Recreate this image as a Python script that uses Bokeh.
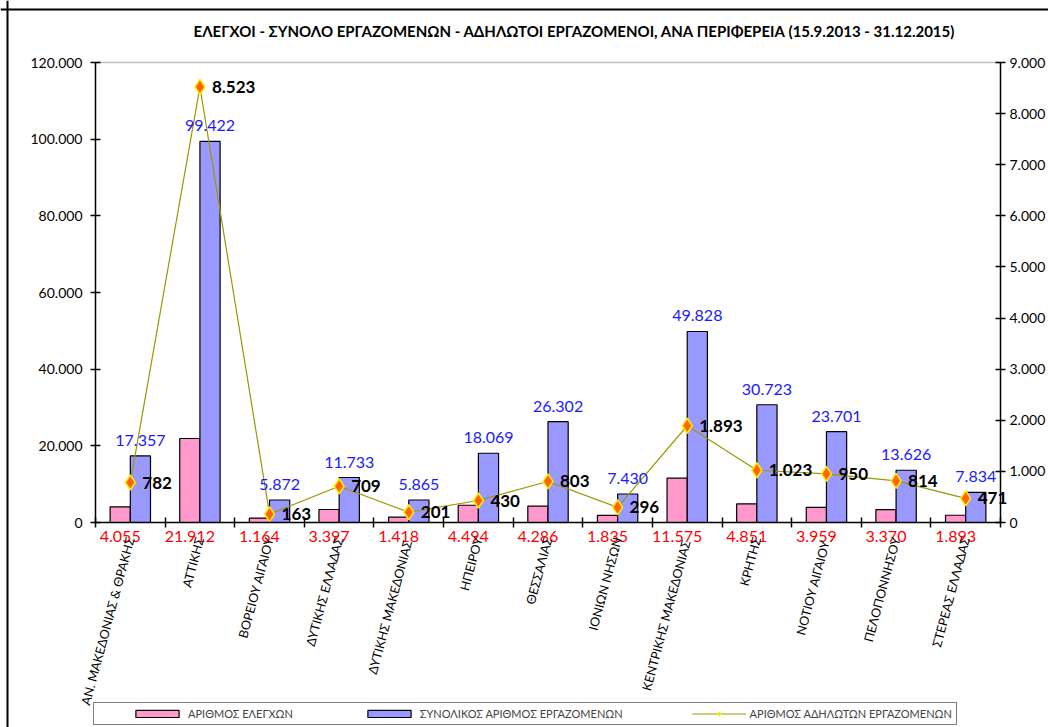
import math
from bokeh.plotting import figure
from bokeh.models import (Range1d, LinearAxis, FixedTicker, CustomJSTickFormatter,
                          ColumnDataSource, LabelSet, Label, Legend, LegendItem, Span)
from bokeh.core.properties import value
from bokeh.embed import file_html
from bokeh.resources import INLINE

FONT = "Lato"

regions = ["ΑΝ. ΜΑΚΕΔΟΝΙΑΣ & ΘΡΑΚΗΣ", "ΑΤΤΙΚΗΣ", "ΒΟΡΕΙΟΥ ΑΙΓΑΙΟΥ", "ΔΥΤΙΚΗΣ ΕΛΛΑΔΑΣ",
           "ΔΥΤΙΚΗΣ  ΜΑΚΕΔΟΝΙΑΣ", "ΗΠΕΙΡΟΥ", "ΘΕΣΣΑΛΙΑΣ", "ΙΟΝΙΩΝ ΝΗΣΩΝ",
           "ΚΕΝΤΡΙΚΗΣ  ΜΑΚΕΔΟΝΙΑΣ", "ΚΡΗΤΗΣ", "ΝΟΤΙΟΥ  ΑΙΓΑΙΟΥ", "ΠΕΛΟΠΟΝΝΗΣΟΥ",
           "ΣΤΕΡΕΑΣ ΕΛΛΑΔΑΣ"]
elegxoi = [4055, 21912, 1164, 3397, 1418, 4494, 4286, 1835, 11575, 4851, 3959, 3370, 1893]
synolikoi = [17357, 99422, 5872, 11733, 5865, 18069, 26302, 7430, 49828, 30723, 23701, 13626, 7834]
adilotoi = [782, 8523, 163, 709, 201, 430, 803, 296, 1893, 1023, 950, 814, 471]
left_ticks = [0, 20000, 40000, 60000, 80000, 100000, 120000]
right_ticks = [0, 1000, 2000, 3000, 4000, 5000, 6000, 7000, 8000, 9000]

series_names = ["ΑΡΙΘΜΟΣ ΕΛΕΓΧΩΝ", "ΣΥΝΟΛΙΚΟΣ ΑΡΙΘΜΟΣ ΕΡΓΑΖΟΜΕΝΩΝ", "ΑΡΙΘΜΟΣ ΑΔΗΛΩΤΩΝ ΕΡΓΑΖΟΜΕΝΩΝ"]
title_text = "ΕΛΕΓΧΟΙ - ΣΥΝΟΛΟ ΕΡΓΑΖΟΜΕΝΩΝ - ΑΔΗΛΩΤΟΙ ΕΡΓΑΖΟΜΕΝΟΙ, ΑΝΑ ΠΕΡΙΦΕΡΕΙΑ (15.9.2013 - 31.12.2015)"


def fmt(v):
    return f"{v:,}".replace(",", ".")


n = len(regions)
L_MAX, R_MAX = left_ticks[-1], right_ticks[-1]

# page layout in pixels (the frame fills the whole canvas)
W, H = 1048, 727
X0_PX, XN_PX = 95, 1000      # left and right value axes
Y0_PX, YT_PX = 522, 62       # zero line and top of plot area
ppx = (XN_PX - X0_PX) / n
ppy = (Y0_PX - YT_PX) / L_MAX


def xd(px):
    return (px - X0_PX) / ppx


def yd(px):
    return (Y0_PX - px) / ppy


BW = 0.29
centers = [i + 0.5 for i in range(n)]
pink_x = [c - BW / 2 for c in centers]
blue_x = [c + BW / 2 for c in centers]
src = ColumnDataSource(dict(
    x=centers, pink_x=pink_x, blue_x=blue_x,
    elegxoi=elegxoi, synolikoi=synolikoi, adilotoi=adilotoi,
    syn_lbl=[fmt(v) for v in synolikoi],
    ad_lbl=[fmt(v) for v in adilotoi],
))

p = figure(width=W, height=H, x_range=Range1d(xd(0), xd(W)),
           y_range=Range1d(yd(H), yd(0)),
           output_backend="svg", toolbar_location=None,
           x_axis_type=None, y_axis_type=None,
           min_border_left=0, min_border_right=0, min_border_top=0, min_border_bottom=0)
p.extra_y_ranges = {"right": Range1d(yd(H) * R_MAX / L_MAX, yd(0) * R_MAX / L_MAX)}
p.outline_line_color = None

# outer chart border (left and top)
p.add_layout(Span(location=xd(7), dimension="height", line_color="black", line_width=2))
p.add_layout(Span(location=yd(9), dimension="width", line_color="black", line_width=2))

# title
p.add_layout(Label(x=xd(574), y=yd(30), text=title_text, text_align="center",
                   text_baseline="middle", text_font=FONT, text_font_size="15px",
                   text_font_style="bold", text_color="black"))

# top edge of plot area (grey)
top_axis = LinearAxis(fixed_location=L_MAX, bounds=(0, n), ticker=FixedTicker(ticks=[]))
top_axis.axis_line_color = "#bfbfbf"
top_axis.axis_line_width = 1.5
top_axis.major_tick_line_color = None
top_axis.minor_tick_line_color = None
top_axis.major_label_text_font_size = "0px"
p.add_layout(top_axis, "above")

# x axis 1 at y=0: red count-of-checks values, ticks at category boundaries
val_axis = LinearAxis(
    fixed_location=0, bounds=(0, n),
    ticker=FixedTicker(ticks=pink_x, minor_ticks=list(range(n + 1))),
    formatter=CustomJSTickFormatter(
        args=dict(pos=pink_x, vals=[fmt(v) for v in elegxoi]),
        code="for (let i = 0; i < pos.length; i++) { if (Math.abs(pos[i] - tick) < 1e-6) return vals[i]; } return '';"),
)
val_axis.major_tick_line_color = None
val_axis.major_tick_in = 0
val_axis.major_tick_out = 0
val_axis.minor_tick_in = 5
val_axis.minor_tick_out = 5
val_axis.minor_tick_line_color = "black"
val_axis.minor_tick_line_width = 1.5
val_axis.axis_line_width = 1.5
val_axis.major_label_text_font = FONT
val_axis.major_label_text_font_size = "16px"
val_axis.major_label_text_color = "#ff0000"
val_axis.major_label_standoff = 3
p.add_layout(val_axis, "below")

# x axis 2 at y=0: region names (rotated)
xaxis = LinearAxis(
    fixed_location=0,
    ticker=FixedTicker(ticks=centers),
    formatter=CustomJSTickFormatter(args=dict(names=regions),
                                    code="const i = Math.floor(tick); return (i >= 0 && i < names.length) ? names[i] : '';"),
)
xaxis.major_label_orientation = math.radians(75)
xaxis.axis_line_color = None
xaxis.major_tick_line_color = None
xaxis.minor_tick_line_color = None
xaxis.major_tick_in = 0
xaxis.major_tick_out = 0
xaxis.major_label_text_font = FONT
xaxis.major_label_text_font_size = "12.5px"
xaxis.major_label_text_color = "black"
xaxis.major_label_standoff = 15
p.add_layout(xaxis, "below")

for side, ticks, rng, loc, standoff in (("left", left_ticks, "default", 0, 8),
                                         ("right", right_ticks, "right", n, 4)):
    ax = LinearAxis(ticker=FixedTicker(ticks=ticks), fixed_location=loc,
                    major_label_overrides={t: fmt(t) for t in ticks},
                    y_range_name=rng, bounds=(ticks[0], ticks[-1]))
    ax.major_tick_in = 5
    ax.major_tick_out = 5
    ax.major_tick_line_width = 1.5
    ax.minor_tick_line_color = None
    ax.axis_line_width = 1.5
    ax.major_label_text_font = FONT
    ax.major_label_text_font_size = "14px"
    ax.major_label_text_color = "black"
    ax.major_label_standoff = standoff
    p.add_layout(ax, side)

r_pink = p.vbar(x="pink_x", top="elegxoi", width=BW, bottom=0, source=src,
                fill_color="#ff99cc", line_color="black", line_width=1.2)
r_blue = p.vbar(x="blue_x", top="synolikoi", width=BW, bottom=0, source=src,
                fill_color="#9999ff", line_color="black", line_width=1.2)
r_line = p.line(x="x", y="adilotoi", source=src, y_range_name="right",
                line_color="#999900", line_width=1.2)
r_mark = p.scatter(x="x", y="adilotoi", source=src, y_range_name="right",
                   marker="diamond", size=15, fill_color="#ff6600",
                   line_color="#ffee00", line_width=1.5)

p.add_layout(LabelSet(x="blue_x", y="synolikoi", text="syn_lbl", source=src, y_offset=10,
                      text_align="center", text_baseline="alphabetic", text_color="#1a1aff",
                      text_font=value(FONT), text_font_size="16px"))
p.add_layout(LabelSet(x="x", y="adilotoi", text="ad_lbl", source=src, y_range_name="right",
                      x_offset=12, text_align="left", text_baseline="middle", text_color="black",
                      text_font=value(FONT), text_font_size="17px", text_font_style="bold"))

legend = Legend(items=[LegendItem(label=series_names[0], renderers=[r_pink]),
                       LegendItem(label=series_names[1], renderers=[r_blue]),
                       LegendItem(label=series_names[2], renderers=[r_line, r_mark])],
                orientation="horizontal", location=(93, 2), spacing=69,
                glyph_width=54, glyph_height=9, label_standoff=4, padding=4,
                title=" ", title_location="left", title_standoff=17,
                border_line_color="black", border_line_width=1.5,
                label_text_font=FONT, label_text_font_size="11px",
                background_fill_alpha=1.0)
p.add_layout(legend, "center")

open("out.html", "w").write(file_html(p, INLINE))
